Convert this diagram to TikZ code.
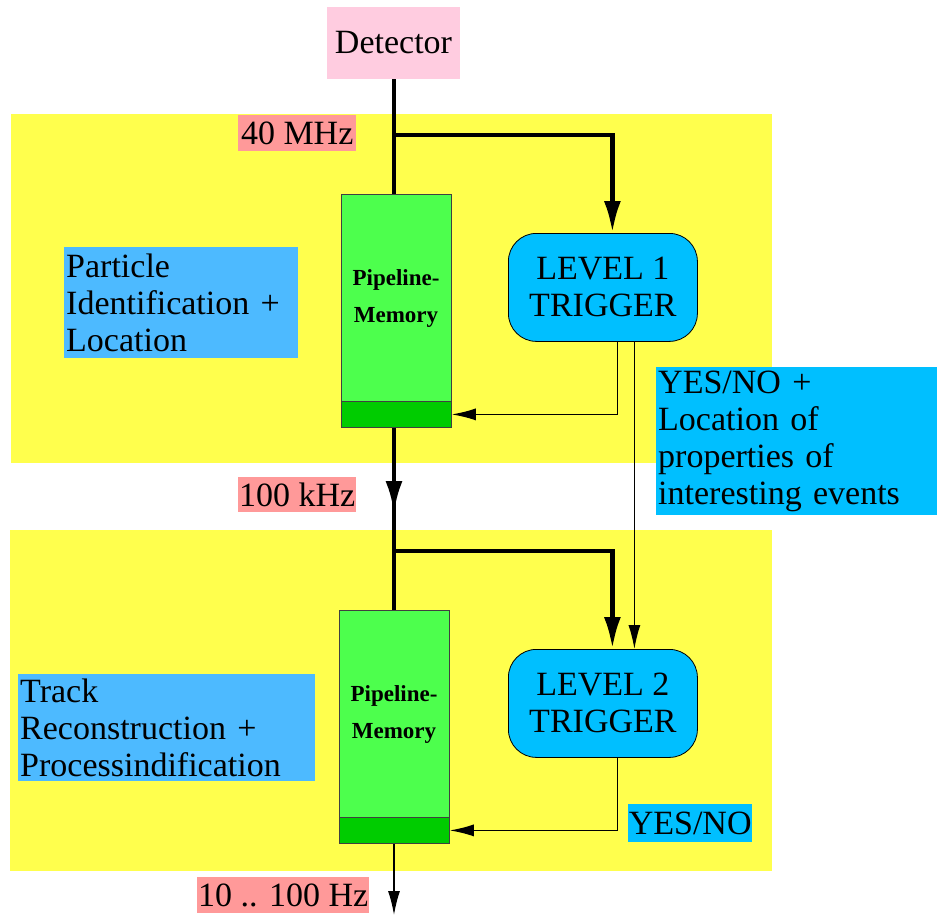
\documentclass[tikz,border=0pt]{standalone}
\usepackage{fontspec}
\setmainfont{Liberation Serif}
\usetikzlibrary{arrows.meta}
\definecolor{bandyellow}{HTML}{FFFF4D}
\definecolor{detpink}{HTML}{FFCCE0}
\definecolor{ratesalmon}{HTML}{FF9999}
\definecolor{memgreen}{HTML}{4DFF4D}
\definecolor{memdarkgreen}{HTML}{00CC00}
\definecolor{trigblue}{HTML}{00BFFF}
\definecolor{noteblue}{HTML}{4DBAFF}
\tikzset{
  big/.style={font=\fontsize{34}{37}\selectfont},
  band/.style={fill=bandyellow, draw=none, inner sep=0pt, anchor=north west},
  detbox/.style={fill=detpink, draw=none, big, inner sep=0pt, minimum width=133pt, minimum height=72pt},
  ratebox/.style={fill=ratesalmon, draw=none, big, inner sep=0pt, anchor=north west},
  membox/.style={fill=memgreen, draw=black!75, line width=0.8pt, inner sep=0pt, minimum width=110pt, minimum height=233pt, anchor=north west},
  memdark/.style={fill=memdarkgreen, draw=black!75, line width=0.8pt, inner sep=0pt, minimum width=110pt, minimum height=26pt, anchor=north west},
  memtext/.style={font=\fontsize{23}{37}\selectfont\bfseries, align=center, inner sep=0pt},
  trigbox/.style={fill=trigblue, draw=black, line width=0.8pt, rounded corners=28pt, big, align=center, inner sep=0pt, minimum width=189pt, minimum height=108pt, anchor=north west},
  notebox/.style={draw=none, big, align=left, inner sep=2pt, anchor=north west},
  thickflow/.style={line width=4.5pt, -{Latex[length=32pt,width=17pt]}},
  thickplain/.style={line width=4.5pt},
  thinflow/.style={line width=1.3pt, -{Latex[length=24pt,width=12pt]}},
}
\begin{document}
\begin{tikzpicture}[x=1pt,y=-1pt]
\useasboundingbox (0,0) rectangle (937,915);
% bands
\node[band, minimum width=761pt, minimum height=349pt] (band1) at (11,114) {};
\node[band, minimum width=762pt, minimum height=341pt] (band2) at (10,530) {};
% detector
\node[detbox] (det) at (393.5,43) {Detector};
% memories
\node[membox] (mem1) at (341,194) {};
\node[memdark] (m1d) at (341,401) {};
\node[memtext] (m1t) at (396,298.5) {Pipeline-\\Memory};
\node[membox] (mem2) at (339,610) {};
\node[memdark] (m2d) at (339,817) {};
\node[memtext] (m2t) at (394,714.5) {Pipeline-\\Memory};
% triggers
\node[trigbox] (L1) at (508,233) {LEVEL 1\\TRIGGER};
\node[trigbox] (L2) at (508,649) {LEVEL 2\\TRIGGER};
% notes
\node[notebox, fill=noteblue, minimum height=111pt, text width=230pt] (pid) at (64,247) {Particle\\Identification +\\Location};
\node[notebox, fill=trigblue, minimum height=148pt, text width=277pt] (yn1) at (656,367) {YES/NO +\\Location of\\properties of\\interesting events};
\node[notebox, fill=noteblue, minimum height=107pt, text width=293pt] (trk) at (18,674) {Track\\Reconstruction +\\Processindification};
\node[ratebox, fill=trigblue, minimum width=124pt, minimum height=38pt] (yn2) at (628,804) {YES/NO};
% rates
\node[ratebox, minimum width=118pt, minimum height=36pt] (r40) at (238,115) {40 MHz};
\node[ratebox, minimum width=118pt, minimum height=35pt] (r100) at (238,477) {100 kHz};
\node[ratebox, minimum width=172pt, minimum height=36pt] (r10) at (197,877) {10 .. 100 Hz};
% coordinates
\coordinate (b1) at (394,135);
\coordinate (c100) at (394,513);
\coordinate (b2) at (394,551);
\coordinate (outend) at (394,915);
% connectors
\draw[thickplain] (det.south -| b1) -- (b1) -- (mem1.north -| b1);
\draw[thickflow] (b1) -| ([xshift=9.5pt]L1.north);
\draw[thinflow] ([xshift=14.5pt]L1.south) |- (m1d.east);
\draw[thinflow] ([xshift=31.5pt]L1.south) -- ([xshift=31.5pt]L2.north);
\draw[thickplain] (m1d.south -| c100) -- (b2) -- (mem2.north -| b2);
\draw[thickflow] (m1d.south -| c100) -- (c100);
\draw[thickflow] (b2) -| ([xshift=9.5pt]L2.north);
\draw[thinflow] ([xshift=14.5pt]L2.south) |- (m2d.east);
\draw[thinflow] (m2d.south -| outend) -- (outend);
\end{tikzpicture}
\end{document}
